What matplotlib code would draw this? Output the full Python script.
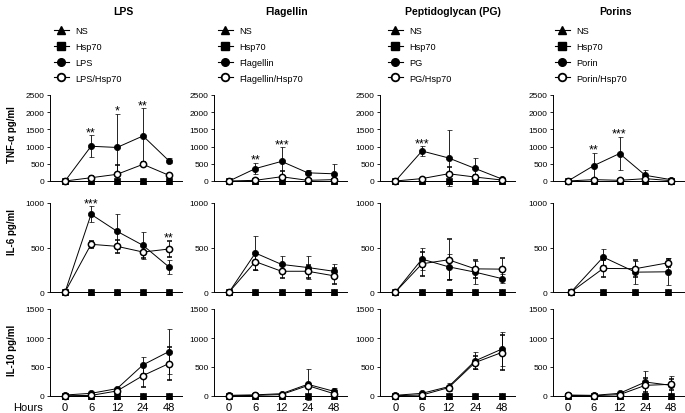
import matplotlib
matplotlib.use("Agg")
import matplotlib.pyplot as plt
from matplotlib.lines import Line2D

plt.rcParams['font.family'] = ['Liberation Sans', 'DejaVu Sans']

###
# Data (mean and error bar per time point)
###
hours = ["0", "6", "12", "24", "48"]
titles = ["LPS", "Flagellin", "Peptidoglycan (PG)", "Porins"]
agonists = ["LPS", "Flagellin", "PG", "Porin"]
cytokines = ["TNF-α pg/ml", "IL-6 pg/ml", "IL-10 pg/ml"]
ymax = [2500, 1000, 1500]

# controls (flat at zero)
ns_vals = [0, 0, 0, 0, 0]
hsp_vals = [0, 0, 0, 0, 0]

# LPS column
lps_tnf = [0, 1010, 975, 1310, 585]
lps_tnf_err = [0, 320, 970, 800, 70]
lpshsp_tnf = [0, 95, 195, 485, 165]
lpshsp_tnf_err = [0, 40, 260, 60, 30]
lps_il6 = [0, 873, 682, 524, 281]
lps_il6_err = [0, 90, 200, 150, 75]
lpshsp_il6 = [0, 536, 513, 449, 483]
lpshsp_il6_err = [0, 40, 70, 70, 90]
lps_il10 = [17, 46, 127, 537, 767]
lps_il10_err = [0, 0, 20, 140, 390]
lpshsp_il10 = [5, 10, 87, 352, 560]
lpshsp_il10_err = [0, 0, 20, 190, 290]

# Flagellin column
flg_tnf = [0, 361, 570, 238, 209]
flg_tnf_err = [0, 160, 410, 70, 280]
flghsp_tnf = [0, 20, 124, 19, 40]
flghsp_tnf_err = [0, 10, 160, 10, 20]
flg_il6 = [0, 438, 310, 275, 233]
flg_il6_err = [0, 190, 100, 130, 80]
flghsp_il6 = [0, 341, 233, 233, 182]
flghsp_il6_err = [0, 90, 75, 75, 90]
flg_il10 = [12, 20, 40, 202, 81]
flg_il10_err = [0, 0, 10, 270, 50]
flghsp_il10 = [5, 10, 25, 179, 40]
flghsp_il10_err = [0, 0, 10, 40, 20]

# Peptidoglycan column
pg_tnf = [0, 872, 670, 364, 60]
pg_tnf_err = [0, 140, 815, 316, 30]
pghsp_tnf = [0, 70, 211, 115, 29]
pghsp_tnf_err = [0, 20, 200, 70, 10]
pg_il6 = [0, 370, 283, 223, 151]
pg_il6_err = [0, 120, 140, 130, 50]
pghsp_il6 = [0, 317, 362, 260, 257]
pghsp_il6_err = [0, 135, 230, 100, 125]
pg_il10 = [12, 46, 161, 606, 808]
pg_il10_err = [0, 10, 70, 145, 290]
pghsp_il10 = [5, 17, 144, 577, 750]
pghsp_il10_err = [0, 5, 30, 115, 300]

# Porins column (IL-6 has only four time points)
por_tnf = [0, 447, 798, 165, 39]
por_tnf_err = [0, 370, 490, 150, 20]
porhsp_tnf = [0, 40, 20, 68, 10]
porhsp_tnf_err = [0, 10, 10, 30, 5]
por_il6 = [0, 392, 223, 227]
por_il6_err = [0, 90, 130, 150]
porhsp_il6 = [0, 265, 262, 327]
porhsp_il6_err = [0, 100, 95, 45]
por_il10 = [17, 11, 46, 241, 184]
por_il10_err = [0, 0, 15, 185, 160]
porhsp_il10 = [10, 5, 23, 184, 201]
porhsp_il10_err = [0, 0, 10, 120, 100]

# significance marks: {time index: text}
lps_tnf_stars = {1: "**", 2: "*", 3: "**"}
lps_il6_stars = {1: "***", 4: "**"}
flg_tnf_stars = {1: "**", 2: "***"}
pg_tnf_stars = {1: "***"}
por_tnf_stars = {1: "**", 2: "***"}

panels = [
    [(lps_tnf, lps_tnf_err, lpshsp_tnf, lpshsp_tnf_err, lps_tnf_stars),
     (lps_il6, lps_il6_err, lpshsp_il6, lpshsp_il6_err, lps_il6_stars),
     (lps_il10, lps_il10_err, lpshsp_il10, lpshsp_il10_err, {})],
    [(flg_tnf, flg_tnf_err, flghsp_tnf, flghsp_tnf_err, flg_tnf_stars),
     (flg_il6, flg_il6_err, flghsp_il6, flghsp_il6_err, {}),
     (flg_il10, flg_il10_err, flghsp_il10, flghsp_il10_err, {})],
    [(pg_tnf, pg_tnf_err, pghsp_tnf, pghsp_tnf_err, pg_tnf_stars),
     (pg_il6, pg_il6_err, pghsp_il6, pghsp_il6_err, {}),
     (pg_il10, pg_il10_err, pghsp_il10, pghsp_il10_err, {})],
    [(por_tnf, por_tnf_err, porhsp_tnf, porhsp_tnf_err, por_tnf_stars),
     (por_il6, por_il6_err, porhsp_il6, porhsp_il6_err, {}),
     (por_il10, por_il10_err, porhsp_il10, porhsp_il10_err, {})],
]

###
# Layout (pixel boxes of the axes)
###
W, H = 685, 414
col_left = [50, 214, 380, 553]
col_right = [182, 347, 515, 684]
row_box = [(96, 182), (204, 293), (310, 397)]

fig = plt.figure(figsize=(W / 100, H / 100), dpi=100)


def series(ax, x, vals, err, marker, face, mew, z):
    cont = ax.errorbar(x, vals, yerr=err, color='k', lw=0.7, marker=marker,
                       ms=4.5, mfc=face, mec='k', mew=mew, capsize=1.8,
                       elinewidth=0.6, capthick=0.6, zorder=z)
    for art in cont.get_children():
        art.set_clip_on(False)


for c in range(4):
    for r in range(3):
        top, bot = row_box[r]
        ax = fig.add_axes([col_left[c] / W, 1 - bot / H,
                           (col_right[c] - col_left[c]) / W, (bot - top) / H])
        mean, err, mean_h, err_h, stars = panels[c][r]
        n = len(mean)
        x = list(range(n))
        series(ax, x, ns_vals[:n], None, '^', 'k', 0.5, 3)
        series(ax, x, hsp_vals[:n], None, 's', 'k', 0.5, 4)
        series(ax, x, mean, err, 'o', 'k', 0.5, 5)
        series(ax, x, mean_h, err_h, 'o', 'white', 1.1, 6)

        for i, txt in stars.items():
            yt = max(mean[i] + err[i], mean_h[i] + err_h[i])
            ax.annotate(txt, (i, yt), xytext=(0, -2), textcoords='offset points',
                        ha='center', va='bottom', fontsize=9)

        if n == 5:
            ax.set_xlim(-0.58, 4.5)
        else:
            ax.set_xlim(-0.56, 3.51)
        ax.set_ylim(0, ymax[r])
        ax.set_yticks(range(0, ymax[r] + 1, 500))
        ax.set_xticks(x)
        if r == 2:
            ax.set_xticklabels(hours)
        else:
            ax.set_xticklabels([])
        for s in ['top', 'right']:
            ax.spines[s].set_visible(False)
        for s in ['left', 'bottom']:
            ax.spines[s].set_linewidth(0.7)
        ax.tick_params(axis='y', direction='out', length=2.5, width=0.6,
                       labelsize=6, pad=1.5)
        ax.tick_params(axis='x', direction='out', length=2.5, width=0.6,
                       labelsize=8, pad=2)

    # column title and legend
    fig.text([123, 287, 453, 615][c] / W, 1 - 12 / H, titles[c],
             ha='center', va='center', fontsize=7.5, fontweight='bold')
    handles = [
        Line2D([], [], color='k', lw=0.8, marker='^', ms=5.5, mfc='k', mec='k'),
        Line2D([], [], color='k', lw=0.8, marker='s', ms=5.5, mfc='k', mec='k'),
        Line2D([], [], color='k', lw=0.8, marker='o', ms=5.5, mfc='k', mec='k'),
        Line2D([], [], color='k', lw=0.8, marker='o', ms=5.5, mfc='white',
               mec='k', mew=1.3),
    ]
    labels = ["NS", "Hsp70", agonists[c], agonists[c] + "/Hsp70"]
    fig.legend(handles, labels, loc='upper left',
               bbox_to_anchor=([54, 218, 388, 555][c] / W, 1 - 27 / H),
               frameon=False, fontsize=6.6, handlelength=1.6,
               handletextpad=0.75, labelspacing=0.75, borderaxespad=0,
               borderpad=0)

# row labels
for r, yc in enumerate([135, 232, 350]):
    fig.text(12 / W, 1 - yc / H, cytokines[r], rotation=90, ha='center',
             va='center', fontsize=7, fontweight='bold')
fig.text(28 / W, 1 - 408 / H, "Hours", ha='center', va='center', fontsize=8)

fig.savefig("out.png", dpi=100)
